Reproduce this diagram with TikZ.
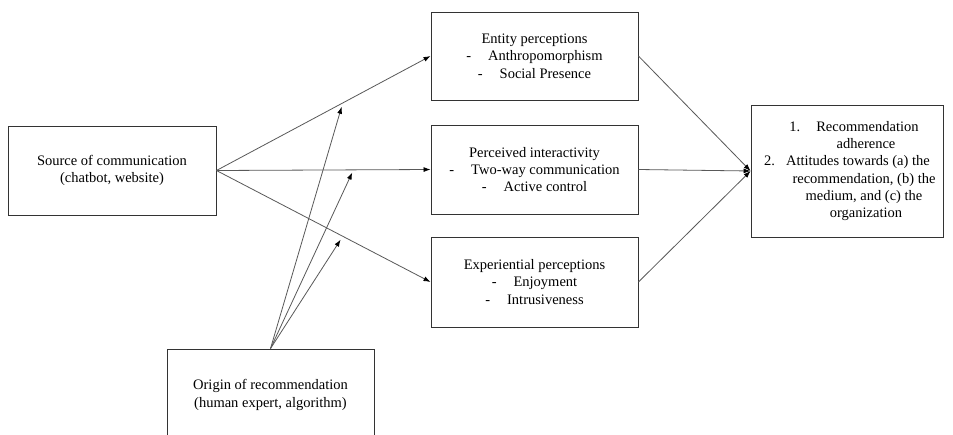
\documentclass[tikz,border=0pt]{standalone}
\usepackage{fontspec}
\setmainfont{Liberation Serif}
\usetikzlibrary{arrows.meta}
\begin{document}
\begin{tikzpicture}[x=1pt,y=-1pt,
    box/.style={draw=black!80,line width=0.9pt,align=center,inner sep=0pt,
      font=\fontsize{14.5}{17.3}\selectfont},
    link/.style={draw=black!65,line width=0.8pt,-{Latex[length=7pt,width=5pt,black]}},
  ]
    \newcommand{\dashItem}[2][17pt]{-\hspace{#1}#2}
  \clip (0,0) rectangle (953,434);
  \fill[white] (0,0) rectangle (953,434);

  \node[box,minimum width=208,minimum height=89] (source) at (112,170.5)
    {Source of communication\\(chatbot, website)};
  \node[box,minimum width=207,minimum height=88] (entity) at (534.5,56)
    {Entity perceptions\\\dashItem{Anthropomorphism}\\\dashItem{Social Presence}};
  \node[box,minimum width=207,minimum height=89] (interact) at (534.5,169.5)
    {Perceived interactivity\\\dashItem{Two-way communication}\\\dashItem{Active control}};
  \node[box,minimum width=207,minimum height=90] (exper) at (534.5,282)
    {Experiential perceptions\\\dashItem{Enjoyment}\\\dashItem{Intrusiveness}};
  \node[box,minimum width=192,minimum height=132] (outcome) at (847,171)
    {\hspace*{14pt}1.\hspace{16pt}Recommendation\\
     \hspace*{38pt}adherence\\
     2.\hspace{11pt}Attitudes towards (a) the\\
     \hspace*{34pt}recommendation, (b) the\\
     \hspace*{34pt}medium, and (c) the\\
     \hspace*{38pt}organization};
  \node[box,minimum width=207,minimum height=92] (origin) at (270.5,395)
    {Origin of recommendation\\(human expert, algorithm)};

  \draw[link] (source.east) -- coordinate[pos=0.59] (m1) (entity.west);
  \draw[link] (source.east) -- coordinate[pos=0.64] (m2) (interact.west);
  \draw[link] (source.east) -- coordinate[pos=0.59] (m3) (exper.west);

  \draw[link,shorten >=4pt] (origin.north) -- (m1);
  \draw[link,shorten >=3pt] (origin.north) -- (m2);
  \draw[link,shorten >=4pt] (origin.north) -- (m3);

  \draw[link] (entity.east) -- (outcome.west);
  \draw[link] (interact.east) -- (outcome.west);
  \draw[link] (exper.east) -- (outcome.west);
\end{tikzpicture}
\end{document}
